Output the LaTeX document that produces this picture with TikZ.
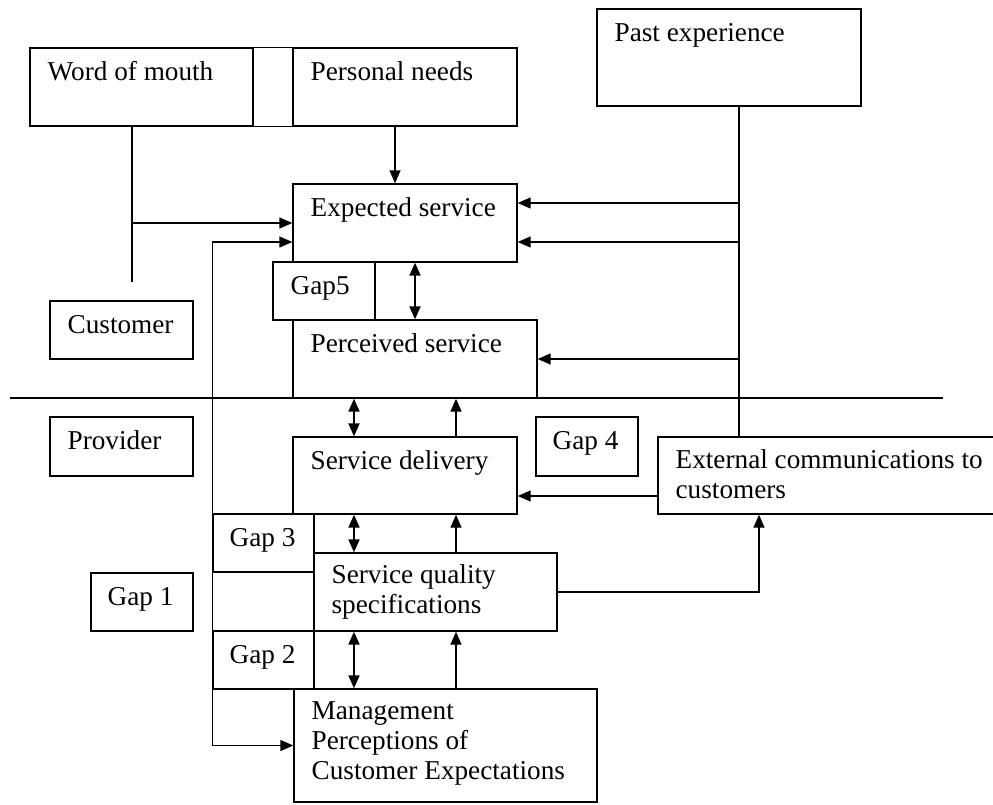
\documentclass[tikz,border=0pt]{standalone}
\usepackage{fontspec}
\setmainfont{Liberation Serif}
\usetikzlibrary{positioning, fit, arrows.meta}

\tikzset{
  box/.style={draw, line width=0.8pt, inner sep=0pt},
  txt/.style={inner sep=0pt, align=left, font=\fontsize{15.5}{17}\selectfont},
  line/.style={line width=0.8pt},
  arr/.style={line width=0.8pt, -{Triangle[length=2.6mm, width=2.2mm]}},
  darr/.style={line width=1.2pt, {Triangle[length=2.6mm, width=2.2mm]}-{Triangle[length=2.6mm, width=2.2mm]}},
}

\begin{document}
\begin{tikzpicture}[x=0.02cm, y=-0.02cm]
\useasboundingbox (0,0) rectangle (993,804);

% Word of mouth / Personal needs
\node[box, fit={(30,48) (253,126)}] (wom) {};
\node[txt, below right=0.24cm and 0.36cm of wom.north west] (wom-t) {\strut Word of mouth};
\node[box, fit={(293,48) (517,126)}] (pn) {};
\node[txt, below right=0.24cm and 0.36cm of pn.north west] (pn-t) {\strut Personal needs};
\draw[line] (wom.north east) -- (pn.north west);
\draw[line] (wom.south east) -- (pn.south west);

% Past experience
\node[box, fit={(597,9) (861,106)}] (pe) {};
\node[txt, below right=0.24cm and 0.36cm of pe.north west] (pe-t) {\strut Past experience};

% Expected service
\node[box, fit={(293,184) (517,262)}] (exp) {};
\node[txt, below right=0.24cm and 0.36cm of exp.north west] (exp-t) {\strut Expected service};

% Gap5
\node[box, fit={(273,262) (375,320)}] (gap5) {};
\node[txt, below right=0.24cm and 0.36cm of gap5.north west] (gap5-t) {\strut Gap5};

% Perceived service
\node[box, fit={(293,320) (537,398)}] (perc) {};
\node[txt, below right=0.24cm and 0.36cm of perc.north west] (perc-t) {\strut Perceived service};

% Customer / Provider
\node[box, fit={(50,301) (193,359)}] (cust) {};
\node[txt, below right=0.24cm and 0.36cm of cust.north west] (cust-t) {\strut Customer};
\node[box, fit={(50,417) (193,476)}] (prov) {};
\node[txt, below right=0.24cm and 0.36cm of prov.north west] (prov-t) {\strut Provider};

% dividing line
\coordinate (divl) at (10,398);
\coordinate (divr) at (943,398);
\draw[line] (divl) -- (divr);

% Service delivery
\node[box, fit={(293,437) (517,514)}] (sd) {};
\node[txt, below right=0.24cm and 0.36cm of sd.north west] (sd-t) {\strut Service delivery};

% Gap 4
\node[box, fit={(536,417) (638,476)}] (gap4) {};
\node[txt, below right=0.24cm and 0.34cm of gap4.north west] (gap4-t) {\strut Gap 4};

% External communications
\node[box, fit={(658,437) (998,514)}] (ext) {};
\node[txt, below right=0.22cm and 0.36cm of ext.north west] (ext-t) {\strut External communications to\\customers};

% Gap 3
\node[box, fit={(213,514) (314,572)}] (gap3) {};
\node[txt, below right=0.24cm and 0.34cm of gap3.north west] (gap3-t) {\strut Gap 3};

% Service quality specifications
\node[box, fit={(314,553) (557,631)}] (sqs) {};
\node[txt, below right=0.2cm and 0.36cm of sqs.north west] (sqs-t) {\strut Service quality\\specifications};

% Gap 1
\node[box, fit={(91,573) (193,631)}] (gap1) {};
\node[txt, below right=0.24cm and 0.34cm of gap1.north west] (gap1-t) {\strut Gap 1};

% Gap 2
\node[box, fit={(213,631) (314,689)}] (gap2) {};
\node[txt, below right=0.24cm and 0.34cm of gap2.north west] (gap2-t) {\strut Gap 2};

% Management perceptions
\node[box, fit={(294,689) (597,802)}] (mgmt) {};
\node[txt, below right=0.2cm and 0.36cm of mgmt.north west] (mgmt-t) {\strut Management\\Perceptions of\\Customer Expectations};

% Personal needs -> expected service
\draw[arr] ([xshift=-0.2cm]pn.south) -- ([xshift=-0.2cm]exp.north);

% Word of mouth -> expected service
\coordinate (womend) at (132,282);
\draw[line] (wom.south -| womend) -- (womend);
\draw[arr] (womend |- exp.west) -- (exp.west);

% Past experience
\draw[line] ([xshift=0.2cm]pe.south) coordinate (pex) -- (pex |- ext.north);
\coordinate (pe1) at ([yshift=0.4cm]exp.east);
\coordinate (pe2) at ([yshift=-0.38cm]exp.east);
\draw[arr] (pe1 -| pex) -- (pe1);
\draw[arr] (pe2 -| pex) -- (pe2);
\draw[arr] (perc.east -| pex) -- (perc.east);

% Gap 1 line
\coordinate (e2) at ([yshift=-0.38cm]exp.west);
\draw[arr] (e2 -| gap3.west) -- (e2);
\draw[arr] (e2 -| gap3.west) -- (mgmt.west -| gap3.west) -- (mgmt.west);

% vertical links
\coordinate (xl) at (354,0);
\coordinate (xr) at (456,0);
\draw[darr] (perc.north |- exp.south) -- (perc.north);
\draw[darr] (xl |- perc.south) -- (xl |- sd.north);
\draw[arr] (xr |- sd.north) -- (xr |- perc.south);
\draw[darr] (xl |- sd.south) -- (xl |- sqs.north);
\draw[arr] (xr |- sqs.north) -- (xr |- sd.south);
\draw[darr] (xl |- sqs.south) -- (xl |- mgmt.north);
\draw[arr] (xr |- mgmt.north) -- (xr |- sqs.south);

% External communications links
\coordinate (ex1) at ([yshift=-0.41cm]ext.west);
\draw[arr] (ex1) -- (ex1 -| sd.east);
\coordinate (xe) at (759,0);
\draw[arr] (sqs.east) -| (xe |- ext.south);

\end{tikzpicture}
\end{document}
